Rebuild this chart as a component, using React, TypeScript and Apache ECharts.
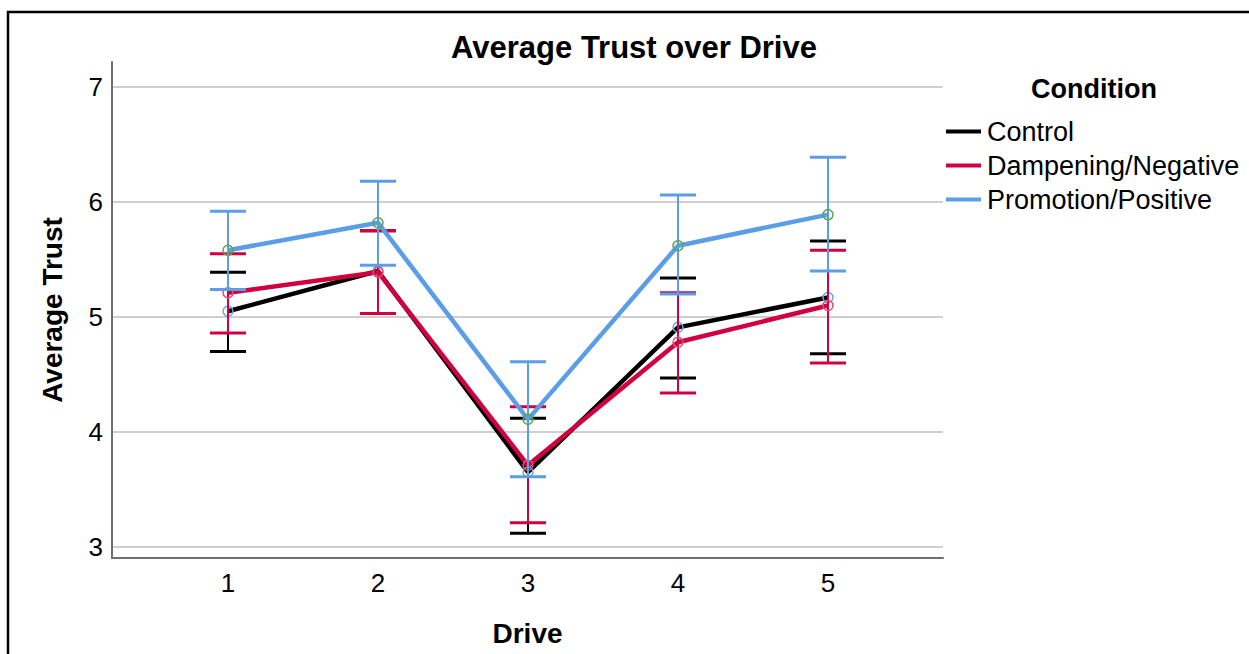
import React, { useEffect, useRef } from "react";
import * as echarts from "echarts";

const drives = [1, 2, 3, 4, 5];
const yTicks = [3, 4, 5, 6, 7];

const controlMean = [5.05, 5.40, 3.65, 4.91, 5.17];
const controlLow = [4.70, 5.03, 3.12, 4.47, 4.68];
const controlHigh = [5.39, 5.75, 4.12, 5.34, 5.66];

const dampMean = [5.21, 5.39, 3.71, 4.78, 5.10];
const dampLow = [4.86, 5.03, 3.21, 4.34, 4.60];
const dampHigh = [5.55, 5.75, 4.22, 5.21, 5.58];

const promoMean = [5.58, 5.82, 4.11, 5.62, 5.89];
const promoLow = [5.24, 5.45, 3.61, 5.20, 5.40];
const promoHigh = [5.92, 6.18, 4.61, 6.06, 6.39];

const conditions = [
  { name: "Control", mean: controlMean, low: controlLow, high: controlHigh, color: "#000000", marker: "#6aa6e8" },
  { name: "Dampening/Negative", mean: dampMean, low: dampLow, high: dampHigh, color: "#d1003f", marker: "#dc4f75" },
  { name: "Promotion/Positive", mean: promoMean, low: promoLow, high: promoHigh, color: "#5b9de6", marker: "#5aa84a" },
];

const FONT = "'Liberation Sans', Arial, sans-serif";

export default function App() {
  const ref = useRef<HTMLDivElement>(null);
  useEffect(() => {
    if (!ref.current) return;
    const chart = echarts.init(ref.current, null, { renderer: "svg" });
    const series: any[] = [];
    conditions.forEach((c, ci) => {
      series.push({
        type: "custom",
        name: c.name + " CI",
        z: 2 + ci * 3,
        silent: true,
        data: drives.map((d, i) => [d, c.low[i], c.high[i]]),
        renderItem: (params: any, api: any) => {
          const x = api.value(0);
          const lo = api.coord([x, api.value(1)]);
          const hi = api.coord([x, api.value(2)]);
          const hw = 18;
          return {
            type: "group",
            children: [
              { type: "line", shape: { x1: lo[0], y1: lo[1], x2: hi[0], y2: hi[1] }, style: { stroke: c.color, lineWidth: 2 } },
              { type: "line", shape: { x1: lo[0] - hw, y1: lo[1], x2: lo[0] + hw, y2: lo[1] }, style: { stroke: c.color, lineWidth: 3 } },
              { type: "line", shape: { x1: hi[0] - hw, y1: hi[1], x2: hi[0] + hw, y2: hi[1] }, style: { stroke: c.color, lineWidth: 3 } },
            ],
          };
        },
      });
      series.push({
        type: "line",
        name: c.name,
        z: 3 + ci * 3,
        data: drives.map((d, i) => [d, c.mean[i]]),
        symbol: "circle",
        symbolSize: 10,
        showSymbol: true,
        lineStyle: { color: c.color, width: 4.5 },
        itemStyle: { color: "rgba(0,0,0,0)", borderColor: c.marker, borderWidth: 1.5 },
      });
    });

    chart.setOption({
      animation: false,
      backgroundColor: "#ffffff",
      textStyle: { fontFamily: FONT },
      title: [
        {
          text: "Average Trust over Drive",
          left: 634,
          top: 32,
          padding: 0,
          textAlign: "center",
          textStyle: { fontFamily: FONT, fontSize: 31, fontWeight: "bold", color: "#000" },
        },
        {
          text: "Condition",
          left: 1094,
          top: 75,
          padding: 0,
          textAlign: "center",
          textStyle: { fontFamily: FONT, fontSize: 27, fontWeight: "bold", color: "#000" },
        },
      ],
      legend: {
        orient: "vertical",
        left: 946,
        top: 118,
        padding: 0,
        itemWidth: 35,
        itemHeight: 4,
        itemGap: 7,
        icon: "rect",
        textStyle: { fontFamily: FONT, fontSize: 27, color: "#000", padding: [0, 0, 0, 1] },
        data: conditions.map((c) => ({ name: c.name, icon: "rect", itemStyle: { color: c.color, borderWidth: 0 } })),
      },
      graphic: [
        {
          type: "rect",
          shape: { x: 8, y: 12, width: 1320, height: 720 },
          style: { fill: "none", stroke: "#000", lineWidth: 2.5 },
          silent: true,
        },
      ],
      grid: { left: 112, right: 306, top: 62, bottom: 96, containLabel: false },
      xAxis: {
        type: "value",
        min: 0.2267,
        max: 5.7667,
        name: "Drive",
        nameLocation: "middle",
        nameGap: 61,
        nameTextStyle: { fontFamily: FONT, fontSize: 28, fontWeight: "bold", color: "#000" },
        axisLine: { show: true, lineStyle: { color: "#6e6e6e", width: 2 } },
        axisTick: { show: false, customValues: drives },
        axisLabel: { customValues: drives, margin: 12, fontFamily: FONT, fontSize: 26, color: "#000" },
        splitLine: { show: false },
      },
      yAxis: {
        type: "value",
        min: 2.9043,
        max: 7.2174,
        name: "Average Trust",
        nameLocation: "middle",
        nameRotate: 90,
        nameGap: 46,
        nameTextStyle: { fontFamily: FONT, fontSize: 28, fontWeight: "bold", color: "#000" },
        axisLine: { show: true, lineStyle: { color: "#6e6e6e", width: 2 } },
        axisTick: { show: false, customValues: yTicks },
        axisLabel: { customValues: yTicks, margin: 9, fontFamily: FONT, fontSize: 26, color: "#000" },
        splitLine: { show: true, lineStyle: { color: "#cfcfcf", width: 2 } },
      },
      series,
    });
    return () => chart.dispose();
  }, []);
  return <div ref={ref} style={{ position: "fixed", left: 0, top: 0, width: 1249, height: 654 }} />;
}
